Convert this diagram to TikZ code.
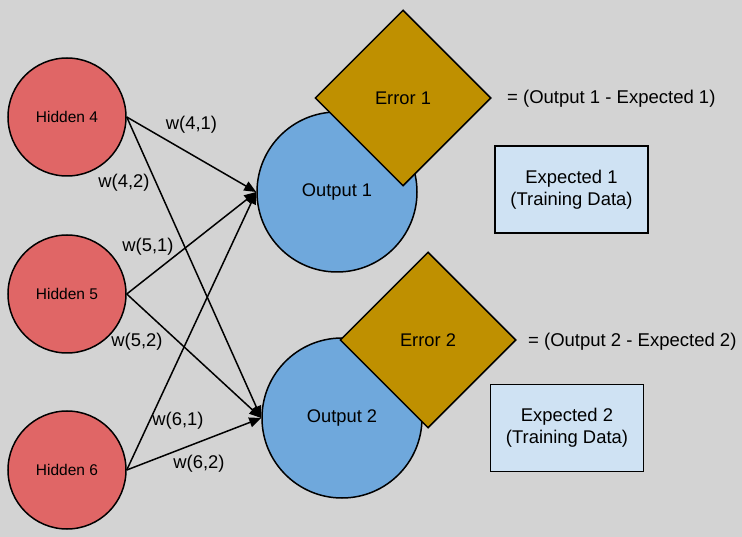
\documentclass[tikz,border=0pt]{standalone}
\usepackage{fontspec}
\setmainfont{Liberation Sans}
\usetikzlibrary{shapes.geometric,arrows.meta}
\definecolor{bg}{HTML}{D3D3D3}
\definecolor{hid}{HTML}{E06666}
\definecolor{outc}{HTML}{6FA8DC}
\definecolor{errc}{HTML}{BF9000}
\definecolor{expc}{HTML}{CFE2F3}
\begin{document}
\begin{tikzpicture}[x=1pt,y=-1pt,
  hidden/.style={circle,draw,line width=1.5pt,fill=hid,minimum size=118pt,inner sep=0pt,font=\fontsize{15.5}{19}\selectfont},
  outnode/.style={circle,draw,line width=1.5pt,fill=outc,minimum size=160pt,inner sep=0pt,font=\fontsize{18.3}{22}\selectfont},
  errnode/.style={diamond,draw,line width=1.5pt,fill=errc,minimum width=176pt,minimum height=176pt,inner sep=0pt,font=\fontsize{18.3}{22}\selectfont},
  expnode/.style={rectangle,draw,line width=1.5pt,fill=expc,align=center,minimum width=153pt,minimum height=87pt,inner sep=0pt,font=\fontsize{18.4}{22}\selectfont},
  wlabel/.style={inner sep=0pt,font=\fontsize{18.4}{21}\selectfont},
  eqlabel/.style={inner sep=0pt,anchor=west,font=\fontsize{18.5}{22}\selectfont},
  conn/.style={line width=1.5pt,-{Triangle[length=12pt,width=10pt]}}]
\fill[bg] (0,0) rectangle (742,537);
\useasboundingbox (0,0) rectangle (742,537);

\node[hidden] (h4) at (67,117) {Hidden 4};
\node[hidden] (h5) at (67,294) {Hidden 5};
\node[hidden] (h6) at (67,470) {Hidden 6};

\node[outnode] (o1) at (337,192) {Output 1};
\node[outnode] (o2) at (342,418) {Output 2};

\node[errnode] (e1) at (403,98) {Error 1};
\node[errnode] (e2) at (428,340) {Error 2};

\node[expnode] (x1) at (571.5,189.5) {Expected 1\\(Training Data)};
\node[expnode] (x2) at (567,428) {Expected 2\\(Training Data)};

\node[eqlabel] (q1) at (507,99) {= (Output 1 - Expected 1)};
\node[eqlabel] (q2) at (528,342) {= (Output 2 - Expected 2)};

\draw[conn] (h4.east) -- (o1.west);
\draw[conn] (h4.east) -- (o2.west);
\draw[conn] (h5.east) -- (o1.west);
\draw[conn] (h5.east) -- (o2.west);
\draw[conn] (h6.east) -- (o1.west);
\draw[conn] (h6.east) -- (o2.west);

\node[wlabel] (w41) at (191.5,125) {w(4,1)};
\node[wlabel] (w42) at (124,183) {w(4,2)};
\node[wlabel] (w51) at (148,247) {w(5,1)};
\node[wlabel] (w52) at (137,342) {w(5,2)};
\node[wlabel] (w61) at (178,421) {w(6,1)};
\node[wlabel] (w62) at (199,464) {w(6,2)};
\end{tikzpicture}
\end{document}
